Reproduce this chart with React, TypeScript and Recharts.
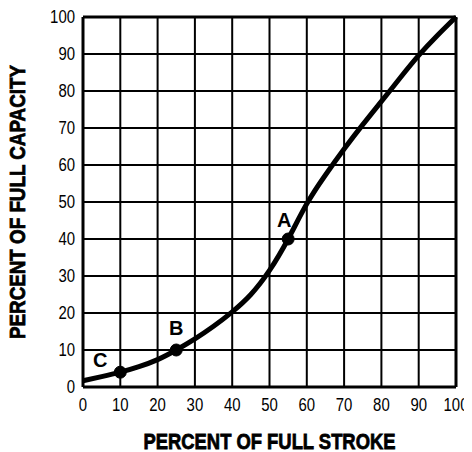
import React from 'react';
import { LineChart, Line, XAxis, YAxis, CartesianGrid, ReferenceDot, ReferenceLine } from 'recharts';

const strokePercent = [0, 5, 10, 15, 20, 25, 30, 35, 40, 45, 50, 55, 60, 65, 70, 75, 80, 85, 90, 95, 100];
const capacityPercent = [1.7, 2.8, 4, 5.5, 7.4, 10, 13, 16.4, 20.3, 25, 31.5, 40, 49.5, 57.3, 64.3, 70.9, 77.2, 83.5, 89.6, 95, 100];
const markLabels = ['C', 'B', 'A'];
const markStroke = [10, 25, 55];
const markCapacity = [4, 10, 40];
const axisTicks = [0, 10, 20, 30, 40, 50, 60, 70, 80, 90, 100];
const xTitle = 'PERCENT OF FULL STROKE';
const yTitle = 'PERCENT OF FULL CAPACITY';

const data = strokePercent.map((s, i) => ({ stroke: s, capacity: capacityPercent[i] }));

const labelOffset: Record<string, [number, number]> = {
  C: [-20, -12],
  B: [0, -22],
  A: [-4, -19.5],
};

const baseFont = '"Liberation Sans", Arial, sans-serif';
const digitWidth = 8.3;

const XTick = (props: any) => {
  const { x, y, payload } = props;
  const s = String(payload.value);
  return (
    <text
      x={x}
      y={y}
      dy="0.71em"
      textAnchor="middle"
      fontFamily={baseFont}
      fontSize={18}
      fill="#000"
      textLength={s.length * digitWidth}
      lengthAdjust="spacingAndGlyphs"
    >
      {s}
    </text>
  );
};

const YTick = (props: any) => {
  const { x, y, payload } = props;
  const s = String(payload.value);
  return (
    <text
      x={x}
      y={y}
      dy="0.355em"
      textAnchor="end"
      fontFamily={baseFont}
      fontSize={18}
      fill="#000"
      textLength={s.length * digitWidth}
      lengthAdjust="spacingAndGlyphs"
    >
      {s}
    </text>
  );
};

const XTitle = (props: any) => {
  const vb = props.viewBox || {};
  return (
    <text
      x={vb.x + vb.width / 2}
      y={vb.y + 62}
      textAnchor="middle"
      fontFamily={baseFont}
      fontWeight="bold"
      fontSize={22}
      fill="#000"
      stroke="#000"
      strokeWidth={0.8}
      textLength={252}
      lengthAdjust="spacingAndGlyphs"
    >
      {xTitle}
    </text>
  );
};

const YTitle = (props: any) => {
  const vb = props.viewBox || {};
  const cx = vb.x + 17;
  const cy = vb.y + vb.height / 2;
  return (
    <text
      x={cx}
      y={cy}
      transform={`rotate(-90 ${cx} ${cy})`}
      textAnchor="middle"
      fontFamily={baseFont}
      fontWeight="bold"
      fontSize={22}
      fill="#000"
      stroke="#000"
      strokeWidth={0.8}
      textLength={274}
      lengthAdjust="spacingAndGlyphs"
    >
      {yTitle}
    </text>
  );
};

const makeMarkLabel = (name: string) => (props: any) => {
  const vb = props.viewBox || {};
  const cx = vb.x + vb.width / 2;
  const cy = vb.y + vb.height / 2;
  const [dx, dy] = labelOffset[name];
  return (
    <text
      x={cx + dx}
      y={cy + dy + 7}
      textAnchor="middle"
      fontFamily={baseFont}
      fontWeight="bold"
      fontSize={20}
      fill="#000"
    >
      {name}
    </text>
  );
};

export default function App() {
  return (
    <LineChart width={464} height={444} data={data} margin={{ top: 9, right: 16, left: 0, bottom: 0 }}>
      <CartesianGrid stroke="#000" strokeWidth={2} strokeOpacity={1} />
      <XAxis
        dataKey="stroke"
        type="number"
        domain={[0, 100]}
        ticks={axisTicks}
        interval={0}
        height={65}
        tickLine={false}
        tickSize={0}
        tickMargin={11}
        axisLine={{ stroke: '#000', strokeWidth: 3 }}
        tick={<XTick />}
        label={{ content: XTitle }}
      />
      <YAxis
        type="number"
        domain={[0, 100]}
        ticks={axisTicks}
        interval={0}
        width={75}
        tickLine={false}
        tickSize={0}
        tickMargin={8}
        axisLine={{ stroke: '#000', strokeWidth: 3 }}
        tick={<YTick />}
        label={{ content: YTitle }}
      />
      <ReferenceLine y={100} stroke="#000" strokeWidth={3} />
      <ReferenceLine x={100} stroke="#000" strokeWidth={3} />
      <Line
        type="natural"
        dataKey="capacity"
        stroke="#000"
        strokeWidth={5}
        dot={false}
        activeDot={false}
        isAnimationActive={false}
      />
      {markLabels.map((name, i) => (
        <ReferenceDot
          key={name}
          x={markStroke[i]}
          y={markCapacity[i]}
          r={6}
          fill="#000"
          stroke="#000"
          strokeWidth={1}
          label={{ content: makeMarkLabel(name) }}
        />
      ))}
    </LineChart>
  );
}
